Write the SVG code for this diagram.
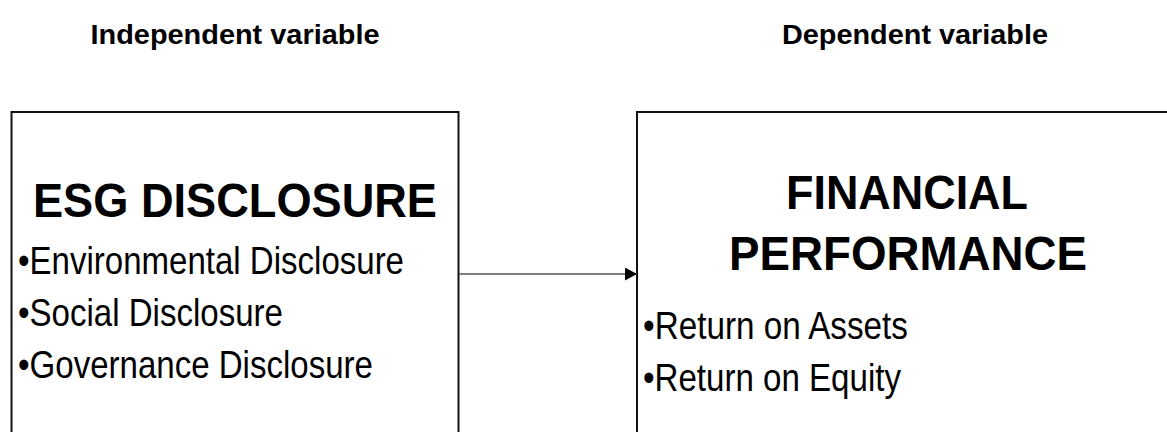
<svg xmlns="http://www.w3.org/2000/svg" width="1167" height="432" viewBox="0 0 1167 432">
  <style>
    .head { font-family: "Liberation Sans", Arial, sans-serif; font-weight: bold; font-size: 27.5px; fill: #000; }
    .title { font-family: "Liberation Sans", Arial, sans-serif; font-weight: bold; font-size: 49px; fill: #000; }
    .item { font-family: "Liberation Sans", Arial, sans-serif; font-size: 39.5px; fill: #000; }
    .box { fill: #fff; stroke: #111; stroke-width: 2; }
    .link { stroke: #555; stroke-width: 1.5; fill: none; }
  </style>
  <defs>
    <marker id="arrowhead" markerWidth="12" markerHeight="13" refX="12" refY="6.5" orient="auto" markerUnits="userSpaceOnUse">
      <path d="M0,0 L12,6.5 L0,13 Z" fill="#000"/>
    </marker>
  </defs>
  <rect width="1167" height="432" fill="#fff"/>

  <!-- column headings -->
  <text class="head" x="90.5" y="44" textLength="289" lengthAdjust="spacingAndGlyphs">Independent variable</text>
  <text class="head" x="782" y="44" textLength="266" lengthAdjust="spacingAndGlyphs">Dependent variable</text>

  <!-- independent variable box -->
  <g id="esg-disclosure">
    <rect class="box" x="11.5" y="112" width="447" height="340"/>
    <text class="title" x="33" y="217" textLength="404" lengthAdjust="spacingAndGlyphs">ESG DISCLOSURE</text>
    <text class="item" x="18" y="274" textLength="386" lengthAdjust="spacingAndGlyphs">•Environmental Disclosure</text>
    <text class="item" x="18" y="326" textLength="265" lengthAdjust="spacingAndGlyphs">•Social Disclosure</text>
    <text class="item" x="18" y="378" textLength="355" lengthAdjust="spacingAndGlyphs">•Governance Disclosure</text>
  </g>

  <!-- dependent variable box -->
  <g id="financial-performance">
    <rect class="box" x="637" y="112" width="560" height="340"/>
    <text class="title" x="786" y="209" textLength="242" lengthAdjust="spacingAndGlyphs">FINANCIAL</text>
    <text class="title" x="729" y="270" textLength="358" lengthAdjust="spacingAndGlyphs">PERFORMANCE</text>
    <text class="item" x="643" y="339" textLength="265" lengthAdjust="spacingAndGlyphs">•Return on Assets</text>
    <text class="item" x="643" y="391" textLength="258" lengthAdjust="spacingAndGlyphs">•Return on Equity</text>
  </g>

  <!-- connectors -->
  <g id="connectors">
    <line class="link" x1="459" y1="274" x2="637" y2="274" marker-end="url(#arrowhead)"/>
  </g>
</svg>
